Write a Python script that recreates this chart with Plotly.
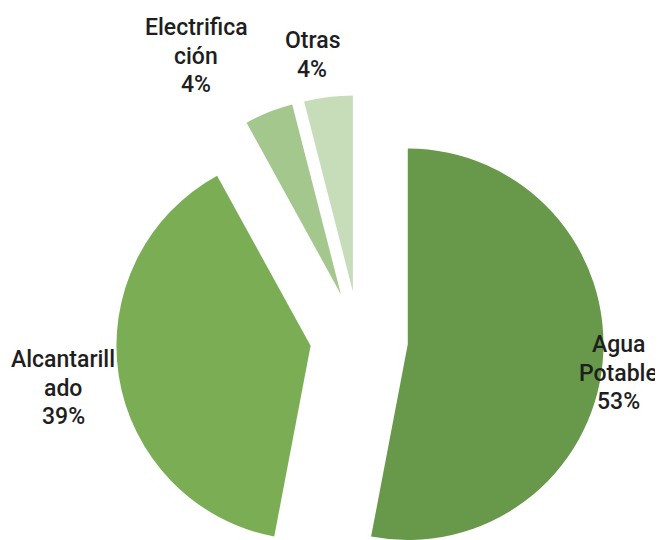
import numpy as np
import plotly.graph_objects as go

# ---- data ----
categories = ["Agua Potable", "Alcantarillado", "Electrificación", "Otras"]
values = [53, 39, 4, 4]
label_lines = [["Agua", "Potable"], ["Alcantarill", "ado"], ["Electrifica", "ción"], ["Otras"]]
colors = ["#68984A", "#7AAD54", "#A3C78D", "#C7DDBA"]

# ---- layout geometry (pixels, as seen in the 663x540 page) ----
PAGE_W, PAGE_H = 663, 540
OFF = 8                          # page offset of the figure (body margin)
W, H = PAGE_W - OFF, PAGE_H - OFF  # figure size so it fits the window without scrollbars
CX, CY = 359, 340      # centre of the un-exploded pie
R = 196                # pie radius
PULL = 0.25            # explosion of every slice, as a fraction of the radius
label_pos = [(618, 373), (63, 388), (196, 56), (312, 55)]  # label block centres
LINE = 28.5            # label line spacing
FONT = dict(family="Roboto, 'Liberation Sans Narrow', sans-serif", size=23,
            color="#1e1e1e", weight=500)

def fx(px):
    return (px - OFF) / W

def fy(py):
    return 1 - (py - OFF) / H

vals = np.array(values, dtype=float)
frac = vals / vals.sum()
ends = np.cumsum(frac)
starts = ends - frac
mids = (starts + ends) / 2 * 2 * np.pi

fig = go.Figure()
for i, cat in enumerate(categories):
    cx = CX + PULL * R * np.sin(mids[i])
    cy = CY - PULL * R * np.cos(mids[i])
    x0, x1 = max(0.0, fx(cx - R)), min(1.0, fx(cx + R))
    y0, y1 = max(0.0, fy(cy + R)), min(1.0, fy(cy - R))
    cols = ["rgba(0,0,0,0)"] * len(categories)
    cols[i] = colors[i]
    fig.add_trace(go.Pie(
        labels=categories, values=values, sort=False,
        direction="clockwise", rotation=0,
        marker=dict(colors=cols, line=dict(width=0)),
        textinfo="none", hoverinfo="skip", showlegend=False,
        domain=dict(x=[x0, x1], y=[y0, y1]),
    ))

for i, cat in enumerate(categories):
    px, py = label_pos[i]
    lines = label_lines[i] + [f"{round(frac[i] * 100)}%"]
    n = len(lines)
    for j, txt in enumerate(lines):
        ly = py + (j - (n - 1) / 2) * LINE
        fig.add_annotation(
            xref="paper", yref="paper", x=fx(px), y=fy(ly),
            xanchor="center", yanchor="middle", showarrow=False,
            text=txt, font=FONT,
        )

fig.update_layout(
    width=W, height=H,
    margin=dict(l=0, r=0, t=0, b=0),
    paper_bgcolor="white", plot_bgcolor="white",
    showlegend=False,
)

fig.write_html("out.html")
